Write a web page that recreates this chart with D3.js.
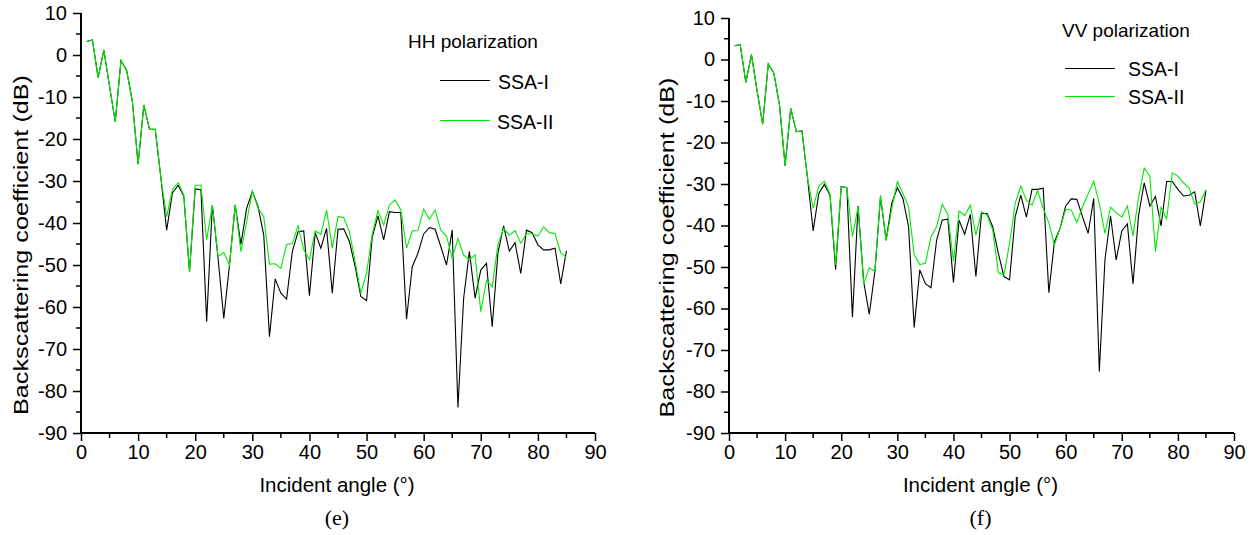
<!DOCTYPE html>
<html><head><meta charset="utf-8">
<script src="https://cdn.jsdelivr.net/npm/d3@7"></script>
<style>body{margin:0;background:#fff}svg{display:block}</style>
</head><body>
<svg id="c" width="1255" height="535"></svg>
<script>
const angles = d3.range(1, 86);
const xTicks = [0,10,20,30,40,50,60,70,80,90];
const yTicks = [10,0,-10,-20,-30,-40,-50,-60,-70,-80,-90];
const seriesNames = ["SSA-I", "SSA-II"];
const panelTitles = ["HH polarization", "VV polarization"];
const panelLabels = ["(e)", "(f)"];

const hhSSA1 = [3.2,3.6,-5.4,1.2,-7.5,-15.9,-1.3,-3.7,-11.1,-26.0,-11.9,-17.7,-17.7,-29.4,-41.7,-32.9,-31.0,-33.6,-51.6,-31.9,
-32.1,-63.5,-35.7,-48.4,-62.7,-50.0,-35.7,-45.1,-36.5,-32.5,-36.1,-42.9,-67.1,-53.3,-56.7,-58.1,-46.8,-42.1,-41.9,-57.3,
-42.3,-46.0,-41.3,-56.7,-41.5,-41.4,-44.4,-50.4,-57.5,-58.5,-43.3,-38.3,-44.0,-37.3,-37.5,-37.5,-62.9,-50.4,-47.2,-42.6,
-41.1,-41.5,-45.6,-50.0,-41.7,-83.9,-57.9,-46.8,-57.9,-51.2,-49.6,-64.7,-47.2,-40.7,-46.7,-44.7,-52.0,-41.7,-42.3,-45.2,
-46.4,-46.4,-46.0,-54.5,-46.6];
const hhSSA2 = [3.2,3.6,-5.4,1.2,-7.5,-15.9,-1.3,-3.7,-11.1,-26.0,-11.9,-17.7,-17.7,-29.4,-38.5,-32.0,-30.4,-33.3,-51.6,-31.0,
-31.0,-44.0,-35.7,-48.0,-47.0,-50.0,-35.7,-46.8,-39.7,-32.5,-36.5,-38.5,-49.8,-49.7,-50.8,-45.1,-44.9,-40.7,-46.4,-48.7,
-41.9,-42.7,-36.9,-46.0,-38.5,-38.7,-42.1,-49.2,-56.7,-52.0,-42.5,-37.1,-40.5,-35.7,-34.5,-36.9,-46.0,-41.9,-41.8,-36.7,
-39.1,-36.9,-41.7,-43.1,-48.4,-43.7,-47.6,-48.8,-47.6,-61.1,-53.6,-55.2,-45.2,-41.3,-42.9,-41.8,-44.8,-42.5,-42.6,-43.1,
-40.9,-42.3,-42.5,-47.1,-48.2];
const vvSSA1 = [3.3,3.6,-5.5,1.2,-7.5,-15.6,-1.1,-3.3,-11.0,-25.6,-11.8,-17.4,-17.2,-28.6,-41.3,-32.3,-30.1,-32.7,-50.6,-30.6,
-30.9,-62.1,-35.3,-53.5,-61.4,-51.1,-33.1,-43.5,-34.7,-30.9,-33.5,-40.3,-64.6,-50.7,-54.0,-55.0,-43.5,-38.7,-38.4,-53.7,
-38.7,-42.1,-37.3,-52.3,-37.1,-37.1,-40.3,-46.7,-52.3,-53.1,-37.9,-32.7,-38.0,-31.3,-31.3,-31.0,-56.2,-43.9,-40.7,-35.3,
-33.6,-33.7,-37.9,-41.9,-33.5,-75.2,-48.3,-37.7,-48.3,-41.3,-39.6,-54.1,-37.5,-29.7,-35.3,-33.0,-40.1,-29.4,-29.4,-31.3,
-32.9,-32.7,-31.9,-40.1,-31.6];
const vvSSA2 = [3.3,3.6,-5.5,1.2,-7.5,-15.6,-1.1,-3.3,-11.0,-25.6,-11.8,-17.4,-17.2,-28.6,-35.9,-30.5,-29.3,-32.5,-49.5,-30.6,
-30.9,-42.7,-35.5,-54.0,-50.2,-51.1,-32.7,-43.7,-36.0,-29.4,-32.3,-35.5,-47.0,-49.4,-49.1,-42.7,-40.3,-34.9,-37.3,-48.6,
-36.5,-37.6,-35.1,-42.3,-36.7,-37.5,-41.1,-51.4,-51.9,-44.3,-34.7,-30.5,-33.9,-35.1,-31.6,-35.9,-39.3,-44.7,-40.7,-36.1,
-36.3,-39.3,-35.5,-32.4,-29.3,-34.7,-41.9,-35.6,-36.9,-38.0,-35.3,-42.5,-33.2,-26.2,-28.1,-46.3,-35.6,-38.4,-27.3,-28.1,
-29.7,-31.0,-34.8,-34.3,-31.4];

const colors = ["#000000", "#00ea00"];
const svg = d3.select("#c");
const FONT = "'Liberation Sans', Arial, sans-serif";

const panels = [
  {x0:81, x1:595, y0:13, y1:433, data:[hhSSA1, hhSSA2], title:panelTitles[0], label:panelLabels[0],
   titlePos:[408,48], legend:[{lx:440, ly:80.5, tx:498, ty:89},{lx:440, ly:120.5, tx:497, ty:129}], ylabX:21},
  {x0:729, x1:1234, y0:18, y1:433, data:[vvSSA1, vvSSA2], title:panelTitles[1], label:panelLabels[1],
   titlePos:[1062,37], legend:[{lx:1065, ly:68.5, tx:1128, ty:76},{lx:1065, ly:96.5, tx:1128, ty:104}], ylabX:667}
];

const fmt = d => String(d);

panels.forEach(p => {
  const x = d3.scaleLinear().domain([0,90]).range([p.x0, p.x1]);
  const y = d3.scaleLinear().domain([-90,10]).range([p.y1, p.y0]);
  const g = svg.append("g");

  const minorX = d3.range(5, 90, 10);
  const minorY = d3.range(-85, 10, 10);
  g.selectAll(".mx").data(minorX).enter().append("line")
    .attr("x1", d => x(d)).attr("x2", d => x(d)).attr("y1", p.y1).attr("y2", p.y1 + 5)
    .attr("stroke", "#000").attr("stroke-width", 1.5);
  g.selectAll(".my").data(minorY).enter().append("line")
    .attr("y1", d => y(d)).attr("y2", d => y(d)).attr("x1", p.x0).attr("x2", p.x0 - 5)
    .attr("stroke", "#000").attr("stroke-width", 1.5);

  const xAxis = d3.axisBottom(x).tickValues(xTicks).tickSize(8).tickPadding(4).tickFormat(fmt);
  const yAxis = d3.axisLeft(y).tickValues(yTicks).tickSize(8).tickPadding(6).tickFormat(fmt);
  const gx = g.append("g").attr("transform", `translate(0,${p.y1})`).call(xAxis);
  const gy = g.append("g").attr("transform", `translate(${p.x0},0)`).call(yAxis);
  [gx, gy].forEach(a => {
    a.select(".domain").attr("stroke", "#000").attr("stroke-width", 2).attr("d",
      a === gx ? `M${p.x0},0H${p.x1}` : `M0,${p.y0}V${p.y1}`);
    a.selectAll(".tick line").attr("stroke", "#000").attr("stroke-width", 1.5);
    a.selectAll(".tick text").attr("font-family", FONT).attr("font-size", 20).attr("fill", "#000");
  });

  p.data.forEach((vals, i) => {
    const line = d3.line().x((d, k) => x(angles[k])).y(d => y(d));
    g.append("path").datum(vals).attr("d", line).attr("fill", "none")
      .attr("stroke", colors[i]).attr("stroke-width", 1.1).attr("stroke-linejoin", "miter");
  });

  g.append("text").attr("x", (p.x0 + p.x1) / 2 - 1).attr("y", 492).attr("text-anchor", "middle")
    .attr("font-family", FONT).attr("font-size", 20.5).text("Incident angle (°)");
  g.append("text").attr("transform", `translate(${p.ylabX},${(p.y0 + p.y1) / 2 + 22}) rotate(-90)`)
    .attr("text-anchor", "middle").attr("dy", "0.35em")
    .attr("font-family", FONT).attr("font-size", 20.5)
    .attr("textLength", 340).attr("lengthAdjust", "spacingAndGlyphs")
    .text("Backscattering coefficient (dB)");

  g.append("text").attr("x", p.titlePos[0]).attr("y", p.titlePos[1])
    .attr("font-family", FONT).attr("font-size", 19).text(p.title);
  p.legend.forEach((l, i) => {
    g.append("line").attr("x1", l.lx).attr("x2", l.lx + 50).attr("y1", l.ly).attr("y2", l.ly)
      .attr("stroke", colors[i]).attr("stroke-width", 1.1);
    g.append("text").attr("x", l.tx).attr("y", l.ty)
      .attr("font-family", FONT).attr("font-size", 19.5).text(seriesNames[i]);
  });

  g.append("text").attr("x", (p.x0 + p.x1) / 2 - 1).attr("y", 525).attr("text-anchor", "middle")
    .attr("font-family", "'Liberation Serif', 'Times New Roman', serif").attr("font-size", 22).text(p.label);
});
</script>
</body></html>
